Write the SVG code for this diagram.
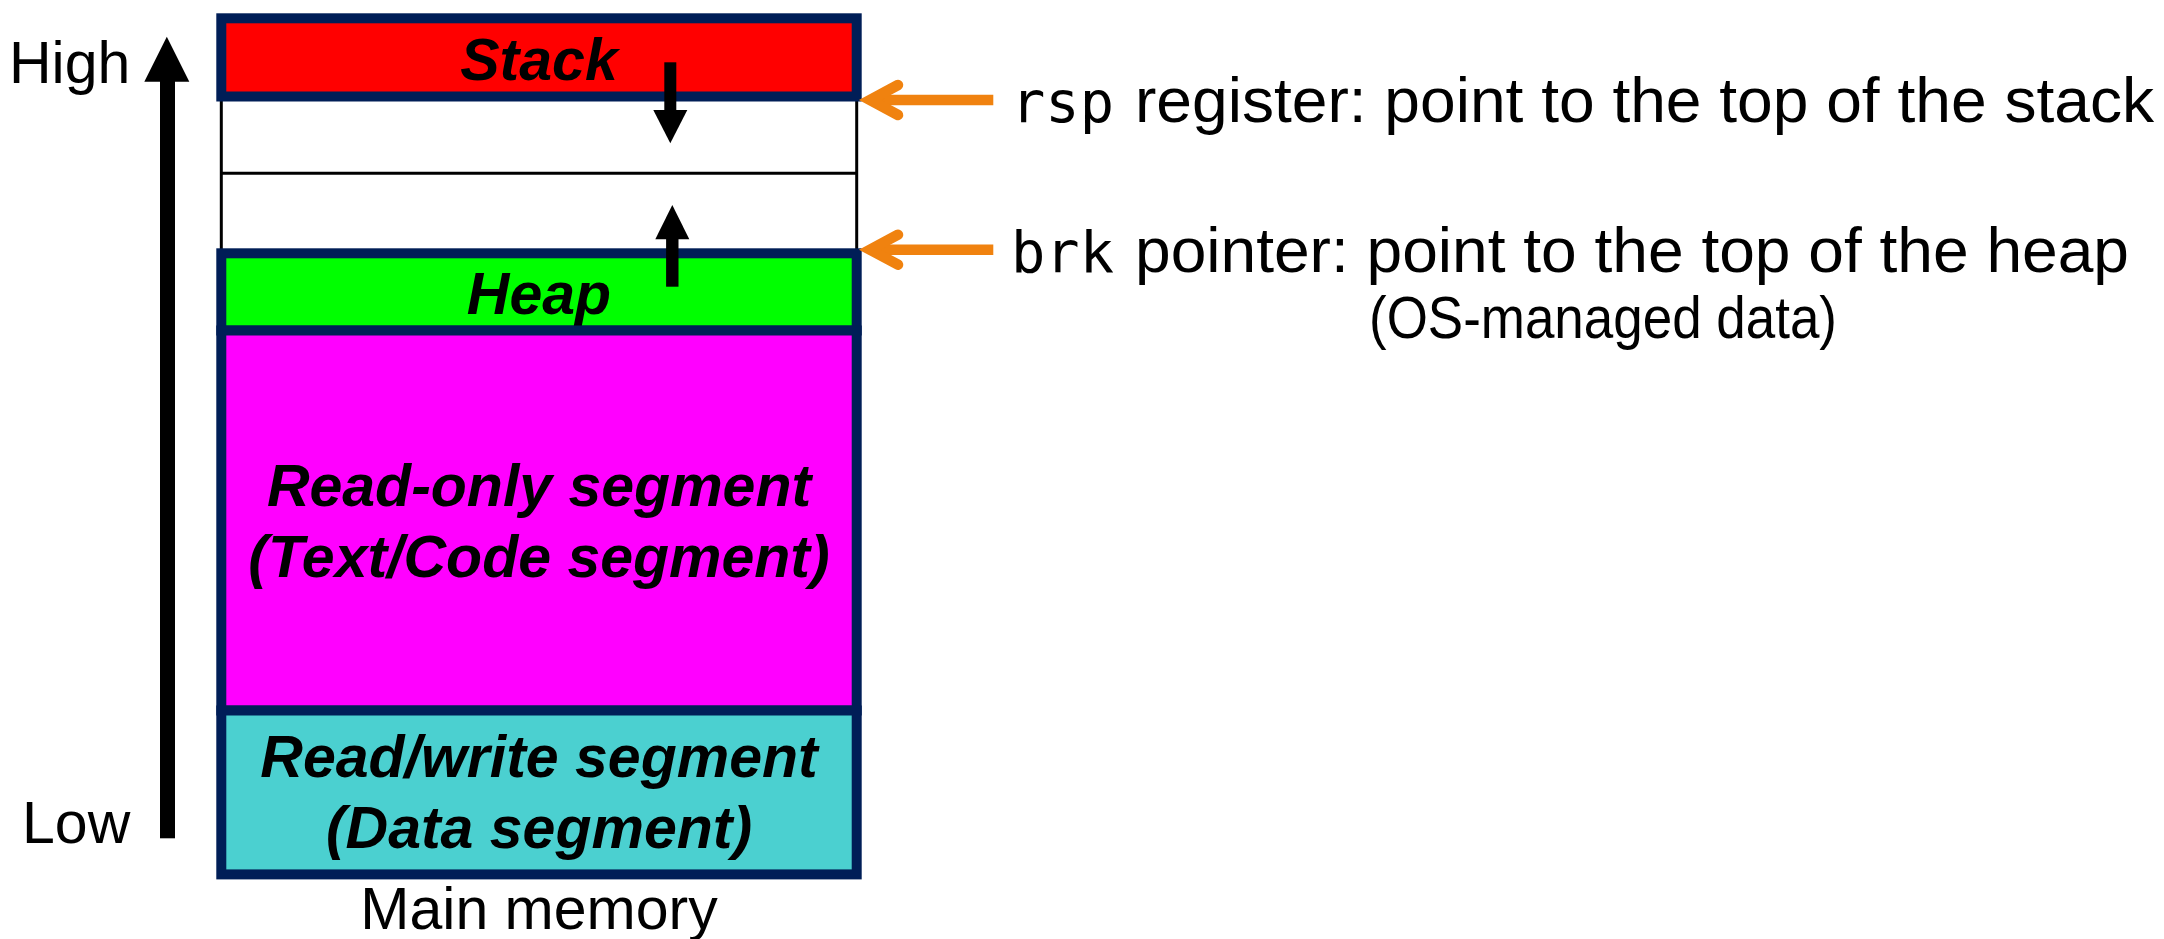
<svg xmlns="http://www.w3.org/2000/svg" width="2164" height="939" viewBox="0 0 2164 939">
  <style>
    .seg { stroke: #001E57; stroke-width: 10; }
    .thin { stroke: #000000; stroke-width: 3; fill: none; }
    .segtxt { font-family: "Liberation Sans", Arial, sans-serif; font-weight: bold; font-style: italic; font-size: 59px; fill: #000000; text-anchor: middle; }
    .lbl { font-family: "Liberation Sans", Arial, sans-serif; font-size: 59px; fill: #000000; }
    .note { font-family: "Liberation Sans", Arial, sans-serif; font-size: 63px; fill: #000000; }
    .mono { font-family: "DejaVu Sans Mono", "Liberation Mono", monospace; font-size: 57px; fill: #000000; }
    .ptr { stroke: #F0820F; stroke-width: 10.5; fill: none; }
    .ptr-head { stroke: #F0820F; stroke-width: 10.5; fill: none; stroke-linecap: round; stroke-linejoin: miter; stroke-miterlimit: 6; }
  </style>

  <rect width="2164" height="939" fill="#FFFFFF"/>

  <!-- free space between stack and heap -->
  <g id="free-space">
    <line class="thin" x1="221.3" y1="100" x2="221.3" y2="250"/>
    <line class="thin" x1="856.7" y1="100" x2="856.7" y2="250"/>
    <line class="thin" x1="221.3" y1="173.3" x2="856.7" y2="173.3"/>
  </g>

  <g id="stack">
    <rect class="seg" x="221.3" y="18.3" width="635.4" height="78.2" fill="#FF0000"/>
    <text class="segtxt" x="539" y="80">Stack</text>
  </g>

  <g id="heap">
    <rect class="seg" x="221.3" y="253.3" width="635.4" height="77.2" fill="#00FF00"/>
    <text class="segtxt" x="539" y="314">Heap</text>
  </g>

  <g id="text-segment">
    <rect class="seg" x="221.3" y="330.5" width="635.4" height="380" fill="#FF00FF"/>
    <text class="segtxt" x="539" y="506">Read-only segment</text>
    <text class="segtxt" x="539" y="577">(Text/Code segment)</text>
  </g>

  <g id="data-segment">
    <rect class="seg" x="221.3" y="710.5" width="635.4" height="163.9" fill="#4BD0D0"/>
    <text class="segtxt" x="539" y="777">Read/write segment</text>
    <text class="segtxt" x="539" y="848">(Data segment)</text>
  </g>

  <g id="address-axis">
    <text class="lbl" x="9" y="83">High</text>
    <text class="lbl" x="22" y="842.5">Low</text>
  </g>

  <g id="caption">
    <text class="lbl" x="539" y="929" text-anchor="middle" font-size="58">Main memory</text>
  </g>

  <g id="rsp-label">
    <text class="mono" x="1011" y="121.7">rsp</text>
    <text class="note" x="1135" y="121.7" textLength="1019" lengthAdjust="spacingAndGlyphs">register: point to the top of the stack</text>
  </g>

  <g id="brk-label">
    <text class="mono" x="1011" y="271.7">brk</text>
    <text class="note" x="1135" y="271.7" textLength="994" lengthAdjust="spacingAndGlyphs">pointer: point to the top of the heap</text>
    <text class="lbl" x="1603" y="338" text-anchor="middle" font-size="52" textLength="468" lengthAdjust="spacingAndGlyphs">(OS-managed data)</text>
  </g>

  <g id="connectors">
    <!-- address direction: low to high -->
    <rect x="160" y="80" width="15" height="758.3" fill="#000000"/>
    <polygon points="144.3,81.7 189.3,81.7 166.8,36.7" fill="#000000"/>

    <!-- stack grows down -->
    <rect x="664.3" y="62.3" width="12" height="49" fill="#000000"/>
    <polygon points="653.3,110 687.3,110 670.3,143.3" fill="#000000"/>

    <!-- heap grows up -->
    <rect x="666.1" y="238" width="12.4" height="48.7" fill="#000000"/>
    <polygon points="655.3,239.3 689.3,239.3 672.3,205" fill="#000000"/>

    <!-- rsp pointer -->
    <line class="ptr" x1="993.3" y1="100" x2="872" y2="100"/>
    <polyline class="ptr-head" points="898,85 870,100 898,115"/>

    <!-- brk pointer -->
    <line class="ptr" x1="993.3" y1="249.7" x2="872" y2="249.7"/>
    <polyline class="ptr-head" points="898,234.7 870,249.7 898,264.7"/>
  </g>
</svg>
